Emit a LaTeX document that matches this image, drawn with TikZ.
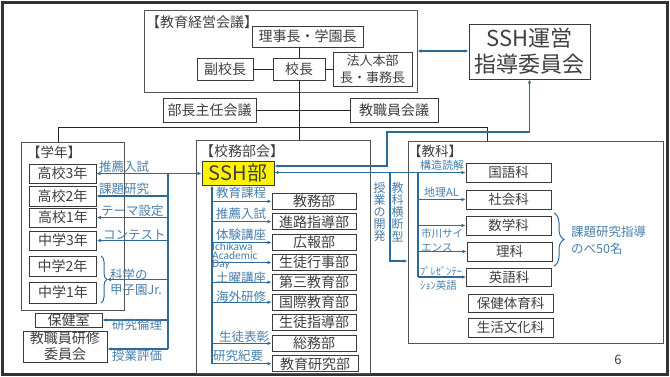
\documentclass[tikz,border=0pt]{standalone}
\usepackage{fontspec}
\setmainfont{Noto Sans CJK JP}
\newfontfamily\latinsmall{Carlito}
\usetikzlibrary{arrows.meta,decorations.pathreplacing}
\definecolor{tc}{HTML}{404040}
\definecolor{bc}{HTML}{3A3A3A}
\definecolor{fc}{HTML}{555555}
\definecolor{bl}{HTML}{2C6A99}
\definecolor{blt}{HTML}{4A7FAC}
\definecolor{sshy}{HTML}{FFF200}
\newcommand\myfs[2]{\fontsize{#1}{#2}\selectfont}
\begin{document}
\begin{tikzpicture}[x=1pt,y=-1pt,
  box/.style={draw=bc, line width=0.9pt, fill=white, text=tc, inner sep=0pt, font=\myfs{14}{16}},
  framebox/.style={draw=fc, line width=1pt, inner sep=0pt},
  ttl/.style={anchor=west, text=tc, inner sep=0pt, font=\myfs{14}{16}},
  lab/.style={anchor=west, text=blt, inner sep=0pt, font=\myfs{12.5}{14}, align=left},
  conn/.style={draw=black!85, line width=0.9pt},
  bconn/.style={draw=bl, line width=1.1pt},
  arr/.style={-{Latex[length=4pt,width=3.6pt]}},
  darr/.style={{Latex[length=4pt,width=3.6pt]}-{Latex[length=4pt,width=3.6pt]}},
  vt/.style={text=blt, inner sep=0pt, font=\myfs{12}{12.2}, align=center}
]
\useasboundingbox (0,0) rectangle (670,376);
\fill[white] (0,0) rectangle (670,376);
\draw[line width=2.5pt, draw=black!80] (2.5,2.5) rectangle (667.5,374.5);

% frames
\node[framebox, minimum width=273pt, minimum height=82pt] (edu) at (280.5,51) {};
\node[framebox, minimum width=103pt, minimum height=168pt] (gak) at (72.5,226) {};
\node[framebox, minimum width=174pt, minimum height=233pt] (kobu) at (283,256.5) {};
\node[framebox, minimum width=255pt, minimum height=202pt] (kyoka) at (535.5,242) {};
\node[ttl] at (146,22) {【教育経営会議】};
\node[ttl, font=\myfs{13.5}{16}] at (27,152) {【学年】};
\node[ttl] at (200,151) {【校務部会】};
\node[ttl, font=\myfs{13.5}{16}] at (408,151) {【教科】};

% top boxes
\node[box, minimum width=111pt, minimum height=21pt] (riji) at (307.5,36.5) {理事長・学園長};
\node[box, minimum width=56pt, minimum height=22pt] (fuku) at (225,69) {副校長};
\node[box, minimum width=52pt, minimum height=22pt] (kocho) at (299,69) {校長};
\node[box, minimum width=79pt, minimum height=34pt, align=center, font=\myfs{13}{16.5}] (hojin) at (372.5,69) {法人本部\\長・事務長};
\node[box, minimum width=93pt, minimum height=24pt] (bucho) at (209.5,110) {部長主任会議};
\node[box, minimum width=88pt, minimum height=24pt] (kyoin) at (394,110) {教職員会議};
\node[box, minimum width=121pt, minimum height=55pt, align=center, font=\myfs{22}{26}] (sshun) at (529.5,51.5) {SSH運営\\指導委員会};

% top connectors
\draw[conn] (fuku.east) -- (kocho.west);
\draw[conn] (kocho.east) -- (hojin.west);
\draw[conn] (kocho.north) -- (kocho.north |- riji.south);
\draw[conn] (kocho.south) -- (kocho.south |- kobu.north);
\draw[conn] (bucho.east) -- (kyoin.west);
\coordinate (hl) at (58,127.5);
\coordinate (hr) at (487,127.5);
\draw[conn] (hl |- gak.north) -- (hl) -- (hr) -- (hr |- kyoka.north);
\draw[bconn, darr] (edu.east) -- (edu.east -| sshun.west);

% grade boxes
\node[box, minimum width=67pt, minimum height=19pt] (k3) at (62.5,173.5) {高校3年};
\node[box, minimum width=67pt, minimum height=20pt] (k2) at (62.5,196) {高校2年};
\node[box, minimum width=67pt, minimum height=19pt] (k1) at (63,217.5) {高校1年};
\node[box, minimum width=67pt, minimum height=19pt] (c3) at (63,240.5) {中学3年};
\node[box, minimum width=67pt, minimum height=20pt] (c2) at (62.5,266) {中学2年};
\node[box, minimum width=67pt, minimum height=21pt] (c1) at (63,292.5) {中学1年};
\node[box, minimum width=67pt, minimum height=14pt] (hoken) at (68.5,320) {保健室};
\node[box, minimum width=84pt, minimum height=31pt, align=center] (kenshu) at (65,346.5) {教職員研修\\委員会};

% school affairs boxes
\node[box, fill=sshy, minimum width=72pt, minimum height=24pt, font=\myfs{20}{22}] (sshbu) at (238,173) {SSH部};
\node[box, minimum width=84pt, minimum height=16pt] (kyomu) at (314,201.3) {教務部};
\node[box, minimum width=84pt, minimum height=16pt] (shinro) at (314,221.7) {進路指導部};
\node[box, minimum width=84pt, minimum height=16pt] (koho) at (314,242.5) {広報部};
\node[box, minimum width=84pt, minimum height=16pt] (gyoji) at (314,262.5) {生徒行事部};
\node[box, minimum width=84pt, minimum height=16pt] (daisan) at (314,282.2) {第三教育部};
\node[box, minimum width=84pt, minimum height=16pt] (kokusai) at (314,302.2) {国際教育部};
\node[box, minimum width=84pt, minimum height=16pt] (seito) at (314,322.5) {生徒指導部};
\node[box, minimum width=84pt, minimum height=16pt] (somu) at (314,343.3) {総務部};
\node[box, minimum width=86pt, minimum height=16pt] (kenkyu) at (315,363.7) {教育研究部};

% subject boxes
\node[box, minimum width=85pt, minimum height=19pt, font=\myfs{13.5}{16}] (kokugo) at (508.5,172.5) {国語科};
\node[box, minimum width=85pt, minimum height=19pt, font=\myfs{13.5}{16}] (shakai) at (508.5,199.5) {社会科};
\node[box, minimum width=85pt, minimum height=19pt, font=\myfs{13.5}{16}] (sugaku) at (508.5,225.5) {数学科};
\node[box, minimum width=85pt, minimum height=19pt, font=\myfs{13.5}{16}] (rika) at (509.5,251.5) {理科};
\node[box, minimum width=85pt, minimum height=18pt, font=\myfs{13.5}{16}] (eigo) at (509,277) {英語科};
\node[box, minimum width=85pt, minimum height=18pt, font=\myfs{13.5}{16}] (hotai) at (510.5,303) {保健体育科};
\node[box, minimum width=85pt, minimum height=19pt, font=\myfs{13.5}{16}] (seikatsu) at (510.5,327.5) {生活文化科};

% left blue connectors
\coordinate (tL) at (168,172);
\coordinate (kenarr) at ([yshift=-2.5pt]kenshu.east);
\coordinate (brt) at (107,279.5);
\draw[bconn, darr] (k3.east) -- (k3.east -| sshbu.west);
\draw[bconn] (k3.east -| tL) -- (kenarr -| tL);
\foreach \n in {k2,k1,c3,hoken} \draw[bconn, arr] (\n.east -| tL) -- (\n.east);
\draw[bconn, arr] (brt -| tL) -- (brt);
\draw[bconn, arr] (kenarr -| tL) -- (kenarr);
\draw[bconn, line width=1pt, decorate, decoration={brace, amplitude=6pt}] (101,256) -- (101,303);

% center blue connectors
\coordinate (tC) at (212,0);
\draw[bconn, arr] (tC |- kenkyu.west) -- (tC |- sshbu.south);
\foreach \n in {kyomu,shinro,koho,gyoji,daisan,kokusai,somu,kenkyu} \draw[bconn, arr] (tC |- \n.west) -- (\n.west);

% right blue connectors
\draw[bconn, darr] (kokugo.west -| sshbu.east) -- (kokugo.west);
\coordinate (j1) at (387,132);
\draw[bconn, darr] ([yshift=7pt]sshbu.east) -| (j1) -| (sshun.south);
\coordinate (j2) at (390,0);
\draw[bconn, arr] (j2 |- kokugo.west) |- ([yshift=-19pt]kyoka.west);
\coordinate (tR) at (418,0);
\draw[bconn] (tR |- kokugo.west) -- (tR |- eigo.west);
\foreach \n in {shakai,sugaku,rika,eigo} \draw[bconn, arr] (tR |- \n.west) -- (\n.west);
\draw[bconn, line width=1pt, decorate, decoration={brace, amplitude=10pt}] (554,213) -- (554,266);

% left labels
\node[lab] at (99,166.5) {推薦入試};
\node[lab] at (99,189) {課題研究};
\node[lab] at (101,211) {テーマ設定};
\node[lab] at (103,235) {コンテスト};
\node[lab, font=\myfs{12.5}{14.5}] at (110,282) {科学の\\甲子園Jr.};
\node[lab] at (112,325) {研究倫理};
\node[lab] at (112,355.5) {授業評価};

% center labels
\node[lab] at (216,193) {教育課程};
\node[lab] at (216,214) {推薦入試};
\node[lab] at (216,235) {体験講座};
\node[lab, font=\latinsmall\myfs{11.5}{7.6}] at (212,256) {Ichikawa\\Academic\\Day};
\node[lab] at (216,277.5) {土曜講座};
\node[lab] at (216,296.5) {海外研修};
\node[lab] at (219,337) {生徒表彰};
\node[lab] at (213,355.5) {研究紀要};

% right labels
\node[lab, font=\myfs{11}{13}] at (420,165) {構造読解};
\node[lab, font=\myfs{11}{13}] at (424,192) {地理AL};
\node[lab, font=\myfs{10.5}{14.5}] at (421,240) {市川サイ\\エンス};
\node[lab, font=\myfs{10.5}{14}] at (420,278) {ﾌﾟﾚｾﾞﾝﾃｰ\\ｼｮﾝ英語};
\node[lab, font=\myfs{12.5}{16.5}] at (571,240) {課題研究指導\\のべ50名};
\node[vt] at (379.5,212) {授\\業\\の\\開\\発};
\node[vt] at (397.5,212) {教\\科\\横\\断\\型};
\node[text=tc, inner sep=0pt, font=\myfs{13}{15}] at (618,359.5) {6};
\end{tikzpicture}
\end{document}
